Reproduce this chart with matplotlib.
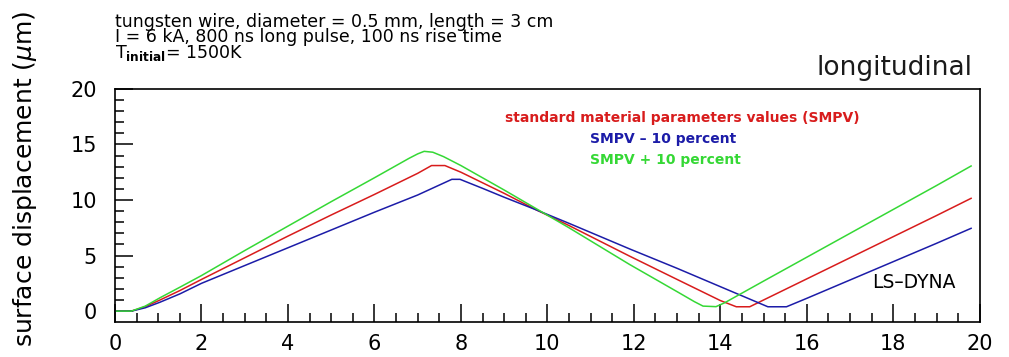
"""Surface displacement of a pulsed tungsten wire, LS-DYNA longitudinal mode."""

import matplotlib

matplotlib.use("Agg")
import matplotlib.pyplot as plt
from matplotlib.ticker import MultipleLocator

# time in microseconds, displacement in micrometres
x_smpv = [0, 0.38, 0.7, 1.04, 1.5, 2.0, 3.0, 4.0, 5.0, 6.0, 7.0, 7.32, 7.63, 8.0, 9.0, 9.75,
          10.5, 11.9, 13.0, 14.0, 14.37, 14.68, 15.0, 16.0, 17.0, 18.0, 19.0, 19.8]
y_smpv = [0, 0, 0.4, 1.0, 1.85, 2.85, 4.8, 6.75, 8.65, 10.5, 12.4, 13.1, 13.1, 12.5, 10.6, 9.1,
          7.7, 4.95, 2.85, 0.95, 0.39, 0.39, 1.0, 2.9, 4.8, 6.7, 8.6, 10.15]

x_minus = [0, 0.38, 0.7, 1.04, 1.5, 2.0, 3.0, 4.0, 5.0, 6.0, 7.0, 7.79, 7.98, 8.5, 9.0, 9.75,
           10.5, 11.9, 13.0, 14.0, 15.1, 15.53, 16.0, 17.0, 18.0, 19.0, 19.8]
y_minus = [0, 0, 0.3, 0.8, 1.55, 2.5, 4.1, 5.7, 7.3, 8.9, 10.45, 11.86, 11.86, 11.05, 10.25, 9.1,
           7.9, 5.6, 3.85, 2.2, 0.39, 0.39, 1.15, 2.8, 4.45, 6.1, 7.45]

x_plus = [0, 0.38, 0.7, 1.04, 1.5, 2.0, 3.0, 4.0, 5.0, 6.0, 6.8, 7.0, 7.15, 7.35, 7.6, 8.0,
          9.0, 9.75, 10.5, 11.9, 13.0, 13.4, 13.6, 13.9, 14.1, 15.0, 16.0, 17.0, 18.0, 19.0, 19.8]
y_plus = [0, 0, 0.45, 1.2, 2.15, 3.2, 5.45, 7.65, 9.85, 12.0, 13.75, 14.15, 14.38, 14.3, 13.9, 13.1,
          10.9, 9.2, 7.5, 4.2, 1.75, 0.85, 0.45, 0.4, 0.75, 2.7, 4.85, 7.0, 9.15, 11.3, 13.06]

series_labels = ["standard material parameters values (SMPV)", "SMPV \u2013 10 percent", "SMPV + 10 percent"]
series_colors = ["#d81c1c", "#1c1ca8", "#35d835"]

header_lines = [
    "tungsten wire, diameter = 0.5 mm, length = 3 cm",
    "I = 6 kA, 800 ns long pulse, 100 ns rise time",
    r"T$_{\mathbf{initial}}$= 1500K",
]


def main():
    fig = plt.figure(figsize=(10.09, 3.57), dpi=100)
    ax = fig.add_axes([0.114, 0.099, 0.857, 0.652])

    ax.plot(x_smpv, y_smpv, color=series_colors[0], linewidth=1.1)
    ax.plot(x_minus, y_minus, color=series_colors[1], linewidth=1.1)
    ax.plot(x_plus, y_plus, color=series_colors[2], linewidth=1.1)

    ax.set_xlim(0, 20)
    ax.set_ylim(-0.95, 20)
    ax.xaxis.set_major_locator(MultipleLocator(2))
    ax.xaxis.set_minor_locator(MultipleLocator(0.5))
    ax.yaxis.set_major_locator(MultipleLocator(5))
    ax.yaxis.set_minor_locator(MultipleLocator(1))
    ax.tick_params(which="both", direction="in", top=False, right=False, width=1.1, color="black")
    ax.tick_params(which="major", length=13)
    ax.tick_params(which="minor", length=6.5)
    ax.tick_params(axis="x", which="major", pad=9, labelsize=15)
    ax.tick_params(axis="y", which="major", pad=13, labelsize=15)
    for spine in ax.spines.values():
        spine.set_linewidth(1.2)

    # legend written as coloured text, as in the original
    ax.text(0.451, 0.875, series_labels[0], color=series_colors[0], fontsize=10,
            fontweight="bold", va="center", transform=ax.transAxes)
    ax.text(0.549, 0.785, series_labels[1], color=series_colors[1], fontsize=10,
            fontweight="bold", va="center", transform=ax.transAxes)
    ax.text(0.549, 0.695, series_labels[2], color=series_colors[2], fontsize=10,
            fontweight="bold", va="center", transform=ax.transAxes)
    ax.text(0.875, 0.17, "LS\u2013DYNA", fontsize=13.5, va="center", transform=ax.transAxes)

    fig.text(0.114, 1 - 13 / 357, "\n".join(header_lines), fontsize=12.5, va="top",
             family="DejaVu Sans", linespacing=0.8)
    fig.text(0.964, 1 - 68 / 357, "longitudinal", fontsize=19, ha="right", va="center",
             color="#1a1a1a")
    fig.text(0.025, 0.5, r"surface displacement ($\mu$m)", rotation=90, fontsize=18,
             ha="center", va="center")

    fig.savefig("out.png", dpi=100)


if __name__ == "__main__":
    main()
